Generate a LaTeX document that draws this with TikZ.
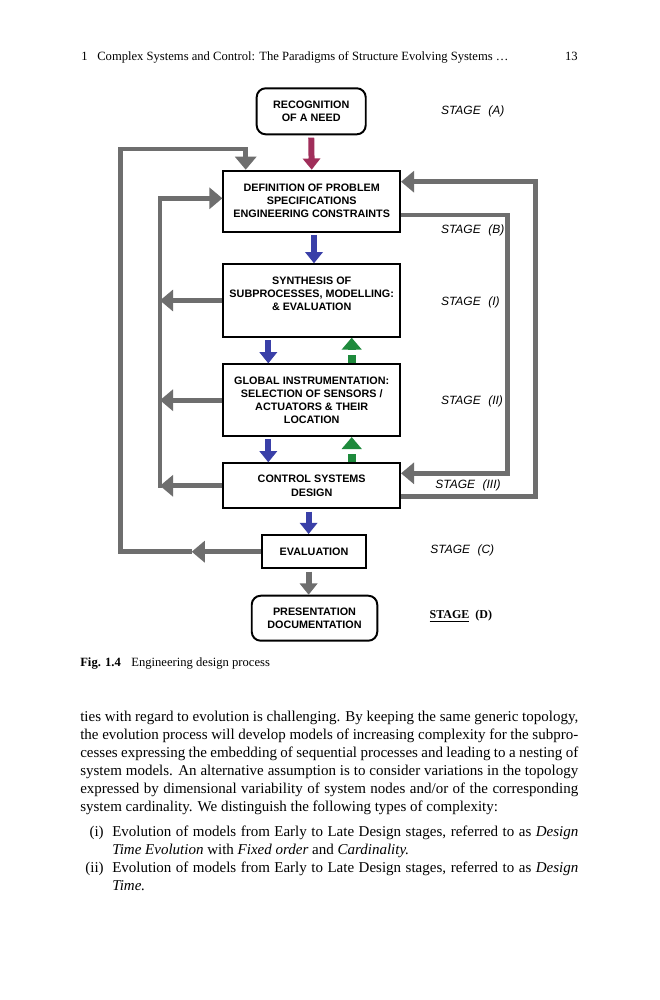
\documentclass[tikz,border=0pt]{standalone}
\usepackage{fontspec}
\setmainfont{Liberation Serif}
\setsansfont{Liberation Sans}
\usetikzlibrary{arrows.meta}

\definecolor{fbgray}{HTML}{6E6E6E}
\definecolor{needred}{HTML}{A02E5A}
\definecolor{downblue}{HTML}{3A40A8}
\definecolor{upgreen}{HTML}{1E8A3C}

\newcommand{\boxfont}{\sffamily\bfseries\fontsize{7.2}{8.7}\selectfont}
\newcommand{\stagefont}{\sffamily\itshape\fontsize{8}{9}\selectfont}
\newcommand{\pagefont}{\fontsize{10}{12}\selectfont}
\newcommand{\smallpagefont}{\fontsize{8.4}{10}\selectfont}

\begin{document}
\begin{tikzpicture}[x=0.6667pt, y=-0.6667pt,
	box/.style={draw, line width=1.3pt, align=center, font=\boxfont, inner sep=0pt},
	rbox/.style={box, rounded corners=6pt},
	stage/.style={anchor=west, font=\stagefont, inner sep=0pt},
	fb/.style={draw=fbgray, line width=3.3pt},
	fbarrow/.style={fb, -{Triangle[width=14pt,length=8.7pt]}},
	downarrow/.style={line width=4pt, shorten <=1.5pt, -{Triangle[width=11.5pt,length=7.5pt]}},
	uparrow/.style={draw=upgreen, line width=5.3pt, dash pattern=on 5.3pt off 4pt, -{Triangle[width=13pt,length=8pt]}},
	pagetext/.style={inner sep=0pt, font=\pagefont}]

	\fill[white] (0,0) rectangle (659,1000);
	\useasboundingbox (0,0) rectangle (659,1000);

	% running head
	\node[pagetext, anchor=base west, font=\smallpagefont] (hnum)   at (81,61)  {1};
	\node[pagetext, anchor=base west, font=\smallpagefont] (htitle) at (97,61)  {Complex Systems and Control: The Paradigms of Structure Evolving Systems \ldots};
	\node[pagetext, anchor=base east, font=\smallpagefont] (hpage)  at (578,61) {13};

	% design process boxes
	\node[rbox, minimum width=72.7pt,  minimum height=30.7pt] (need)   at (311.2,111.3) {RECOGNITION\\OF A NEED};
	\node[box,  minimum width=117.8pt, minimum height=40.7pt] (spec)   at (311.7,201.2) {DEFINITION OF PROBLEM\\SPECIFICATIONS\\ENGINEERING CONSTRAINTS};
	\node[box,  minimum width=117.8pt, minimum height=48.3pt] (synth)  at (311.7,300.5) {SYNTHESIS OF\\SUBPROCESSES, MODELLING:\\\& EVALUATION\\~};
	\node[box,  minimum width=117.8pt, minimum height=47.8pt] (global) at (311.7,400.2) {GLOBAL INSTRUMENTATION:\\SELECTION OF SENSORS /\\ACTUATORS \& THEIR\\LOCATION};
	\node[box,  minimum width=117.8pt, minimum height=30pt]   (ctrl)   at (311.7,485.8) {CONTROL SYSTEMS\\DESIGN};
	\node[box,  minimum width=68.9pt,  minimum height=22.2pt] (eval)   at (314,551.7)   {EVALUATION};
	\node[rbox, minimum width=83.7pt,  minimum height=30pt]   (pres)   at (314.5,618.2) {PRESENTATION\\DOCUMENTATION};

	% stages
	\node[stage] (stA)   at (440.7,111.7) {STAGE\hspace{5pt}(A)};
	\node[stage] (stB)   at (440.7,230.7) {STAGE\hspace{5pt}(B)};
	\node[stage] (stI)   at (440.7,302.3) {STAGE\hspace{5pt}(I)};
	\node[stage] (stII)  at (440.7,401.7) {STAGE\hspace{5pt}(II)};
	\node[stage] (stIII) at (435,485.7)   {STAGE\hspace{5pt}(III)};
	\node[stage] (stC)   at (430,550.7)   {STAGE\hspace{5pt}(C)};
	\node[stage, font=\rmfamily\bfseries\fontsize{8}{9}\selectfont] (stD) at (429.3,616) {\underline{STAGE}\hspace{4pt}(D)};

	% columns of the forward arrows
	\coordinate (mainx) at (314,0);
	\coordinate (dnx)   at (268.3,0);
	\coordinate (upx)   at (351.7,0);
	\coordinate (cex)   at (308.6,0);

	\draw[downarrow, needred]  (need.south) -- (spec.north);
	\draw[downarrow, downblue] (spec.south -| mainx) -- (synth.north -| mainx);
	\draw[downarrow, downblue] (synth.south -| dnx) -- (global.north -| dnx);
	\draw[uparrow]             (global.north -| upx) -- (synth.south -| upx);
	\draw[downarrow, downblue] (global.south -| dnx) -- (ctrl.north -| dnx);
	\draw[uparrow]             (ctrl.north -| upx) -- (global.south -| upx);
	\draw[downarrow, downblue] (ctrl.south -| cex) -- (eval.north -| cex);
	\draw[downarrow, fbgray]   (eval.south -| cex) -- (pres.north -| cex);

	% feedback: evaluation back to the problem definition
	\coordinate (lomid) at (191.7,551.7);
	\coordinate (lo1)   at (120.7,551.7);
	\coordinate (lo2)   at (120.7,149);
	\coordinate (lo3)   at (245.7,149);
	\draw[fbarrow] (eval.west) -- (lomid);
	\draw[fbarrow] (lomid) -- (lo1) -- (lo2) -- (lo3) -- (lo3 |- spec.north);

	% feedback: inner left bus
	\coordinate (li1) at (160,198.3);
	\coordinate (li2) at (160,487.5);
	\draw[fbarrow] (li2) -- (li1) -- (li1 -| spec.west);
	\draw[fbarrow] (synth.west)  -- (synth.west -| li1);
	\draw[fbarrow] (global.west) -- (global.west -| li1);
	\draw[fbarrow] (ctrl.west)   -- (ctrl.west -| li1);

	% feedback: right loops
	\coordinate (ri1) at (507.3,215);
	\coordinate (ri2) at (507.3,473.3);
	\draw[fbarrow] (spec.east |- ri1) -- (ri1) -- (ri2) -- (ri2 -| ctrl.east);
	\coordinate (ro1) at (535.7,496.7);
	\coordinate (ro2) at (535.7,181.7);
	\draw[fbarrow] (ctrl.east |- ro1) -- (ro1) -- (ro2) -- (ro2 -| spec.east);

	% caption
	\node[pagetext, anchor=base west, font=\smallpagefont] (caption) at (80,666) {\textbf{Fig. 1.4}\hspace{7pt}Engineering design process};

	% body text
	\node[pagetext, anchor=base west, text width=332pt, align=justify] (para) at (80,721)
		{ties with regard to evolution is challenging. By keeping the same generic topology,\linebreak
		the evolution process will develop models of increasing complexity for the subpro-\linebreak
		cesses expressing the embedding of sequential processes and leading to a nesting of\linebreak
		system models. An alternative assumption is to consider variations in the topology\linebreak
		expressed by dimensional variability of system nodes and/or of the corresponding\linebreak
		system cardinality. We distinguish the following types of complexity:};

	\node[pagetext, anchor=base east] (item1) at (104,836) {(i)};
	\node[pagetext, anchor=base west, text width=310.7pt, align=justify] (item1text) at (112,836)
		{Evolution of models from Early to Late Design stages, referred to as \emph{Design}\linebreak
		\emph{Time Evolution} with \emph{Fixed order} and \emph{Cardinality.}};
	\node[pagetext, anchor=base east] (item2) at (104,872) {(ii)};
	\node[pagetext, anchor=base west, text width=310.7pt, align=justify] (item2text) at (112,872)
		{Evolution of models from Early to Late Design stages, referred to as \emph{Design}\linebreak
		\emph{Time.}};
\end{tikzpicture}
\end{document}
